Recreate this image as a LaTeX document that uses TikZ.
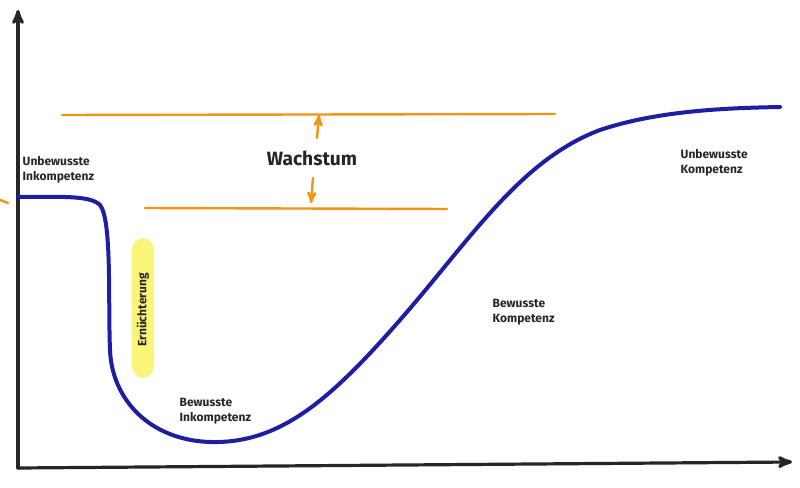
\documentclass[tikz,border=0pt]{standalone}
\usepackage{fontspec}
\setmainfont{Fira Sans}
\usetikzlibrary{arrows}
\definecolor{curveblue}{RGB}{30,30,160}
\definecolor{groworange}{RGB}{240,150,20}
\definecolor{marker}{RGB}{250,245,120}
\tikzstyle{phase} = [align=left, font=\small\bfseries, text=black!85]
\tikzstyle{axis} = [line width=2.4pt, black!85, line cap=round]
\tikzstyle{growline} = [line width=1.8pt, groworange, line cap=round]
\begin{document}
\begin{tikzpicture}[x=0.75pt, y=-0.75pt]
\useasboundingbox (0,0) rectangle (800,488);
\fill[white] (0,0) rectangle (800,488);

% axes
\coordinate (O) at (18,468);
\coordinate (Ytop) at (18,10);
\coordinate (Xend) at (792,462);
\draw[axis, ->, >=stealth'] (O) -- (Ytop);
\draw[axis, ->, >=stealth'] (O) -- (Xend);

% growth band
\draw[growline] (62,115) -- (555,114);
\draw[growline] (145,208) -- (447,209);
\draw[growline] (0,200) -- (8,203);
\node[font=\Large\bfseries, text=black!85, name=wachstum] at (312,158) {Wachstum};
\draw[growline, ->, >=stealth'] (317,138) -- (319,115);
\draw[growline, ->, >=stealth'] (313,178) -- (311,203);

% learning curve
\draw[line width=3pt, curveblue, line cap=round]
  (18,197) .. controls (60,197) and (90,195) .. (100,205)
  .. controls (112,220) and (108,300) .. (110,350)
  .. controls (112,400) and (150,440) .. (210,442)
  .. controls (280,444) and (330,400) .. (400,320)
  .. controls (470,240) and (520,160) .. (600,130)
  .. controls (660,110) and (730,108) .. (780,107);

% highlight
\fill[marker, rounded corners=9pt] (132,238) rectangle (154,378);
\node[rotate=90, font=\small\bfseries, text=black!85, name=ern] at (143,310) {Ernüchterung};

% phases
\node[phase, anchor=west, name=ui] at (18,170) {Unbewusste\\Inkompetenz};
\node[phase, anchor=west, name=bi] at (175,411) {Bewusste\\Inkompetenz};
\node[phase, anchor=west, name=bk] at (488,312) {Bewusste\\Kompetenz};
\node[phase, anchor=west, name=uk] at (676,163) {Unbewusste\\Kompetenz};
\end{tikzpicture}
\end{document}
